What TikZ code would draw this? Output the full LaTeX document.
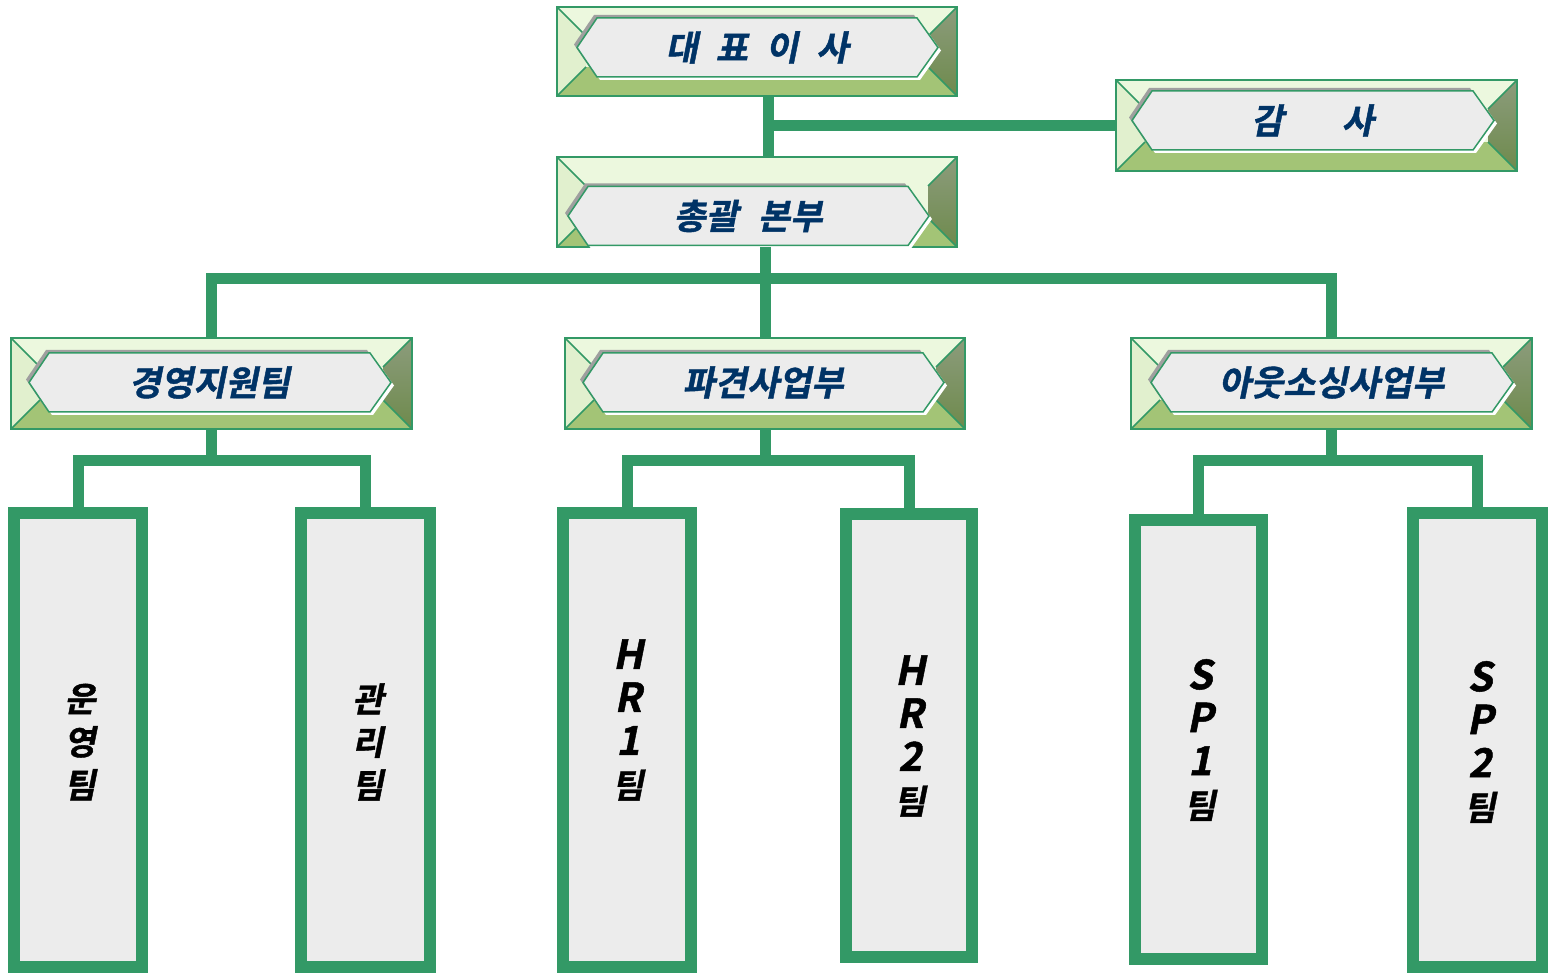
\documentclass[tikz,border=0pt]{standalone}
\usepackage{fontspec}
\usepackage{tikz}

\newfontfamily\kofont[FakeSlant=0.2,FakeBold=1.2]{Noto Sans CJK KR Bold}

\definecolor{linkgreen}{HTML}{339966}
\definecolor{navytxt}{HTML}{003366}
\definecolor{bevlight}{HTML}{ECF8DE}
\definecolor{bevbot}{HTML}{A3C476}
\definecolor{bevrtop}{HTML}{8C9C7C}
\definecolor{bevrbot}{HTML}{6E8A4C}
\definecolor{facegray}{HTML}{ECECEC}

\def\bd{29}

% bevelled title box: name, left, top, right, bottom, dx, dy, text
\newcommand{\bevelbox}[8]{%
  \node[inner sep=0, minimum width={#4-#2}, minimum height={#5-#3}] (#1) at ({(#2+#4)/2},{(#3+#5)/2}) {};
  \fill[bevlight] (#2,#3) -- (#4,#3) -- ({#4-\bd},{#3+\bd}) -- ({#2+\bd},{#3+\bd}) -- cycle;
  \fill[bevlight!85!bevbot] (#2,#3) -- ({#2+\bd},{#3+\bd}) -- ({#2+\bd},{#5-\bd}) -- (#2,#5) -- cycle;
  \fill[bevbot] (#2,#5) -- (#4,#5) -- ({#4-\bd},{#5-\bd}) -- ({#2+\bd},{#5-\bd}) -- cycle;
  \shade[top color=bevrtop, bottom color=bevrbot] (#4,#3) -- ({#4-\bd},{#3+\bd}) -- ({#4-\bd},{#5-\bd}) -- (#4,#5) -- cycle;
  \fill[bevlight] ({#2+\bd},{#3+\bd}) rectangle ({#4-\bd},{#5-\bd});
  \draw[linkgreen, line width=1.5pt] (#2,#3) -- ({#2+\bd},{#3+\bd}) (#4,#3) -- ({#4-\bd},{#3+\bd})
    (#2,#5) -- ({#2+\bd},{#5-\bd}) (#4,#5) -- ({#4-\bd},{#5-\bd});
  \draw[linkgreen, line width=2.5pt] (#2,#3) rectangle (#4,#5);
  \begin{scope}[shift={({#6},{(#3+#5)/2+#7})}]
    \fill[gray!75, shift={(-3,-3)}] ({#2+20},0) -- ({#2+40},-29.5) -- ({#4-40},-29.5) -- ({#4-19},0) -- ({#4-40},29.5) -- ({#2+40},29.5) -- cycle;
    \fill[white, shift={(3,3)}] ({#2+20},0) -- ({#2+40},-29.5) -- ({#4-40},-29.5) -- ({#4-19},0) -- ({#4-40},29.5) -- ({#2+40},29.5) -- cycle;
    \draw[linkgreen, line width=1.5pt, fill=facegray] ({#2+20},0) -- ({#2+40},-29.5) -- ({#4-40},-29.5) -- ({#4-19},0) -- ({#4-40},29.5) -- ({#2+40},29.5) -- cycle;
  \end{scope}
  \node[deptxt] (#1-t) at ({(#2+#4)/2+#6},{(#3+#5)/2+#7}) {#8};
}

\newcommand{\lat}[1]{{\fontsize{40}{43}\selectfont #1}}

\tikzset{
  link/.style={linkgreen, line width=11pt},
  team/.style={draw=linkgreen, line width=12pt, fill=facegray, inner sep=0},
  deptxt/.style={font=\kofont\fontsize{35}{40}\selectfont, text=navytxt, inner sep=0},
  teamtxt/.style={font=\kofont\fontsize{34}{43}\selectfont, align=center, inner sep=0},
}

\begin{document}
\begin{tikzpicture}[x=1pt, y=-1pt]
    \useasboundingbox (0,0) rectangle (1548,973);

    % top levels
    \bevelbox{ceo}{557}{7}{957}{96}{0}{-4}{대\hspace{18pt}표\hspace{18pt}이\hspace{18pt}사}
    \bevelbox{audit}{1116}{80}{1517}{171}{-4}{-5}{감\hspace{58pt}사}
    \bevelbox{hq}{557}{157}{957}{247}{-9}{14}{총괄\hspace{20pt}본부}

    % departments
    \bevelbox{mgmt}{11}{338}{412}{429}{-2}{-1}{경영지원팀}
    \bevelbox{disp}{565}{338}{965}{429}{-2}{-1}{파견사업부}
    \bevelbox{outs}{1131}{338}{1532}{429}{0}{-1}{아웃소싱사업부}

    % teams
    \node[team, minimum width=128, minimum height=454] (ops) at (78,740) {};
    \node[team, minimum width=129, minimum height=454] (mgr) at (365.5,740) {};
    \node[team, minimum width=128, minimum height=454] (hr1) at (627,740) {};
    \node[team, minimum width=126, minimum height=443] (hr2) at (909,735.5) {};
    \node[team, minimum width=127, minimum height=439] (sp1) at (1198.5,739.5) {};
    \node[team, minimum width=129, minimum height=454] (sp2) at (1477.5,740) {};

    \node[teamtxt] (ops-t) at (80,742) {운\\영\\팀};
    \node[teamtxt] (mgr-t) at (368,742) {관\\리\\팀};
    \node[teamtxt] (hr1-t) at (628,720) {\lat{H}\\\lat{R}\\\lat{1}\\팀};
    \node[teamtxt] (hr2-t) at (910,736) {\lat{H}\\\lat{R}\\\lat{2}\\팀};
    \node[teamtxt] (sp1-t) at (1200,740) {\lat{S}\\\lat{P}\\\lat{1}\\팀};
    \node[teamtxt] (sp2-t) at (1480,742) {\lat{S}\\\lat{P}\\\lat{2}\\팀};

    % connectors
    \coordinate (trunk) at ([xshift=11pt]ceo.south);
    \draw[link] (trunk) -- (trunk |- hq.north);
    \draw[link] (trunk |- audit.west) -- (audit.west);

    \coordinate (bus) at (0,279);
    \draw[link] (hq.south -| disp.north) -- (disp.north);
    \draw[link] (mgmt.north) |- (bus -| outs.north) -- (outs.north);

    \coordinate (busa) at (0,461);
    \draw[link] (mgmt.south) -- (mgmt.south |- busa);
    \draw[link] (ops.north) |- (busa -| mgr.north) -- (mgr.north);
    \draw[link] (disp.south) -- (disp.south |- busa);
    \draw[link] (hr1.north) |- (busa -| hr2.north) -- (hr2.north);
    \draw[link] (outs.south) -- (outs.south |- busa);
    \draw[link] (sp1.north) |- (busa -| sp2.north) -- (sp2.north);

\end{tikzpicture}
\end{document}
